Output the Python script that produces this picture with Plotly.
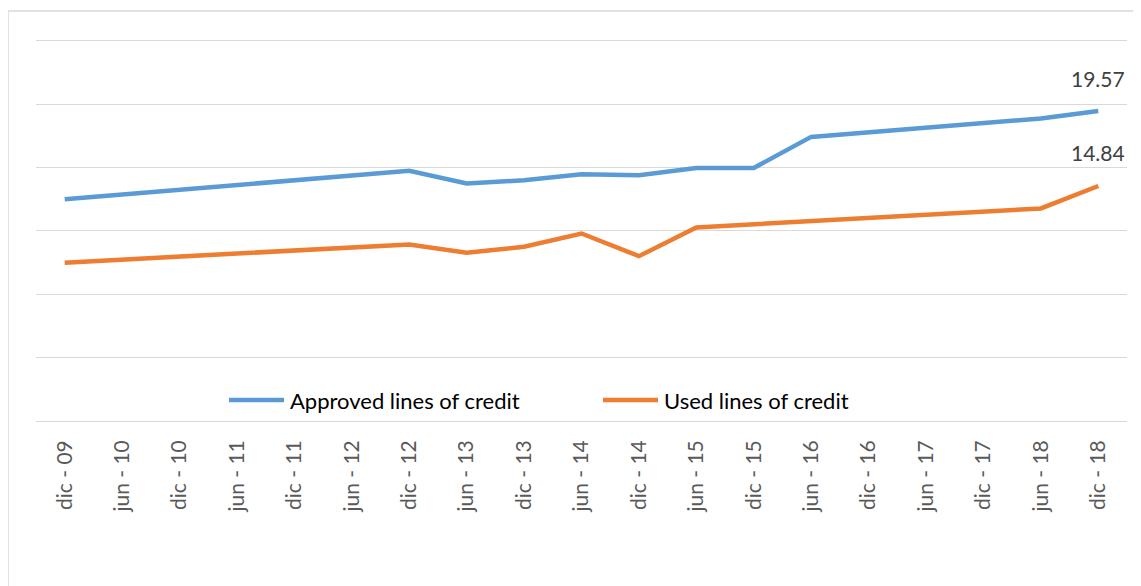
import plotly.graph_objects as go

categories = ["dic - 09", "jun - 10", "dic - 10", "jun - 11", "dic - 11", "jun - 12",
              "dic - 12", "jun - 13", "dic - 13", "jun - 14", "dic - 14", "jun - 15",
              "dic - 15", "jun - 16", "dic - 16", "jun - 17", "dic - 17", "jun - 18", "dic - 18"]
approved = [14.0, 14.3, 14.6, 14.9, 15.2, 15.5, 15.8, 15.0, 15.2, 15.58, 15.52, 15.98,
            15.98, 17.94, 18.23, 18.52, 18.81, 19.1, 19.57]
used = [10.0, 10.19, 10.38, 10.58, 10.77, 10.96, 11.15, 10.62, 11.0, 11.84, 10.41, 12.22,
        12.42, 12.62, 12.82, 13.02, 13.22, 13.42, 14.84]
series_names = ["Approved lines of credit", "Used lines of credit"]
colors = ["#5B9BD5", "#ED7D31"]

OFF = 8  # page body margin
W, H = 1141 - OFF, 586 - OFF
YMAX = 24.5
L, R, T, B = 36 - OFF, 14, 33 - OFF, 165
pw, ph = W - L - R, H - T - B

def px(x):
    return (x - OFF - L) / pw

def py(y):
    return (T + ph - (y - OFF)) / ph

FONT = "Lato"

fig = go.Figure()
for name, vals, col in zip(series_names, [approved, used], colors):
    fig.add_trace(go.Scatter(x=categories, y=vals, mode="lines", name=name,
                             line=dict(color=col, width=4.5), showlegend=False))

# data labels for last points
for vals in [approved, used]:
    fig.add_annotation(x=categories[-1], y=vals[-1], text=f"{vals[-1]:.2f}",
                       showarrow=False, yshift=33, yanchor="middle",
                       font=dict(family=FONT, size=21, color="#404040"))

# custom legend
leg_items = [(229, 284, 288), (603, 658, 662)]
for (x0, x1, tx), name, col in zip(leg_items, series_names, colors):
    fig.add_shape(type="line", xref="paper", yref="paper", x0=px(x0), x1=px(x1),
                  y0=py(400), y1=py(400), line=dict(color=col, width=4.5))
    fig.add_annotation(xref="paper", yref="paper", x=px(tx), y=py(400), text=name,
                       showarrow=False, xanchor="left", yanchor="middle",
                       font=dict(family=FONT, size=22, color="#000000"))

# outer chart border
fig.add_shape(type="rect", xref="paper", yref="paper", x0=px(8), x1=px(1160),
              y0=py(620), y1=py(11), line=dict(color="#d9d9d9", width=1.5),
              fillcolor="rgba(0,0,0,0)", layer="below")

fig.update_layout(
    width=W, height=H, margin=dict(l=L, r=R, t=T, b=B),
    plot_bgcolor="white", paper_bgcolor="white",
    font=dict(family=FONT),
    xaxis=dict(range=[-0.5, len(categories) - 0.5], tickangle=-90,
               tickfont=dict(family=FONT, size=21, color="#595959"),
               showgrid=False, showline=False, zeroline=False, ticks="",
               ticklabelstandoff=14),
    yaxis=dict(range=[0, YMAX], tickvals=[0, 4, 8, 12, 16, 20, 24], showticklabels=False,
               showgrid=True, gridcolor="#d9d9d9", gridwidth=1.2, zeroline=True,
               zerolinecolor="#d9d9d9", zerolinewidth=1.2, showline=False),
)

fig.write_html("out.html")
